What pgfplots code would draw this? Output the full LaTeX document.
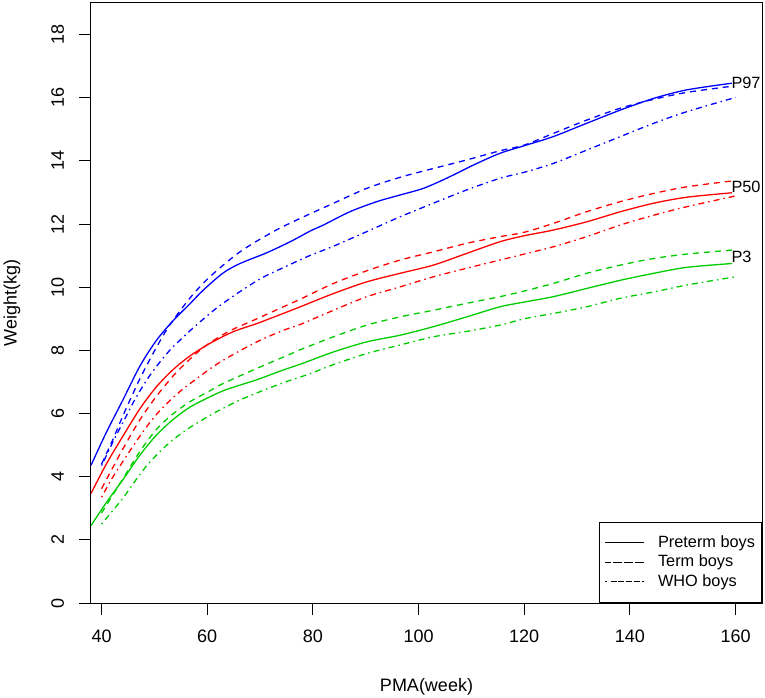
\documentclass[border=0pt]{standalone}
\usepackage{fontspec}
\setmainfont{Liberation Sans}
\usepackage{pgfplots}
\pgfplotsset{compat=1.18}
\definecolor{rblue}{RGB}{0,0,255}
\definecolor{rred}{RGB}{255,0,0}
\definecolor{rgreen}{RGB}{0,205,0}
\tikzset{
  pre/.style={solid},
  trm/.style={dash pattern=on 6bp off 5bp},
  who/.style={dash pattern=on 1.5bp off 4bp on 6bp off 4bp},
}
\begin{document}
\begin{tikzpicture}
\path[use as bounding box] (-91bp,-95bp) rectangle (674bp,603bp);
\begin{axis}[
  at={(0,0)}, anchor=south west,
  scale only axis, width=671bp, height=600bp,
  xmin=38, xmax=165, ymin=0, ymax=19,
  xtick={40,60,...,160}, ytick={0,2,...,18},
  tick pos=left,
  tick align=outside, major tick length=12bp,
  tick style={black, line width=1bp},
  axis line style={line width=1bp},
  /pgf/number format/assume math mode=true,
  ticklabel style={font=\fontsize{18bp}{20bp}\selectfont},
  xticklabel shift=11.5bp,
  yticklabel shift=11.5bp,
  yticklabel style={rotate=90, anchor=south},
  xlabel={PMA(week)}, ylabel={Weight(kg)},
  label style={font=\fontsize{18bp}{20bp}\selectfont},
  xlabel style={at={(axis description cs:0.5,-0.14)}, anchor=center},
  ylabel style={at={(axis description cs:-0.1177,0.5)}, anchor=center},
  legend style={at={(1,0)}, anchor=south east, draw=black, line width=1bp,
    inner xsep=5bp, inner ysep=11.5bp,
    font=\fontsize{16.3bp}{19bp}\selectfont,
    nodes={inner sep=1.5bp, text height=12bp, text depth=3.5bp},
    row sep=1bp,
    /tikz/every odd column/.append style={column sep=12.3bp}},
  legend cell align=left,
  legend image code/.code={\path (-7.5bp,0bp) -- (31bp,0bp); \draw[#1] (0bp,0bp) -- (31bp,0bp);},
  every axis plot/.append style={line width=1.3bp, smooth},
]
\addlegendimage{black, pre, line width=1.3bp}
\addlegendentry{Preterm boys}
\addlegendimage{black, trm, line width=1.3bp}
\addlegendentry{Term boys}
\addlegendimage{black, who, line width=1.3bp}
\addlegendentry{WHO boys}

% Preterm P97
\addplot[rblue, pre, forget plot] coordinates {
(38,4.36) (40.9,5.40) (44.1,6.45) (47.25,7.50) (50.4,8.32) (53.6,8.95) (56.7,9.47)
(59.2,9.90) (63.0,10.45) (66.2,10.75) (71.25,11.09) (75.7,11.44) (79.5,11.78)
(82,11.97) (87,12.39) (92.1,12.71) (96.5,12.92) (100.9,13.13) (105.3,13.45)
(110.4,13.87) (115.4,14.24) (120,14.48) (125.5,14.77) (131.8,15.19) (138.2,15.61)
(144.5,15.98) (150.8,16.25) (159.3,16.46)};
% Term P97
\addplot[rblue, trm, forget plot] coordinates {
(40,4.40) (42,5.12) (44.1,5.95) (47.25,7.10) (50.4,8.10) (52.9,8.80) (56.7,9.65)
(60.5,10.33) (66.2,11.12) (72.5,11.76) (77.6,12.18) (83.9,12.66) (90.2,13.13)
(96.5,13.48) (102.8,13.76) (109.1,14.03) (115.4,14.32) (120,14.50) (125.5,14.87)
(131.8,15.29) (138.2,15.67) (144.5,15.95) (150.8,16.17) (159.6,16.37)};
% WHO P97
\addplot[rblue, who, forget plot] coordinates {
(40,4.35) (42,5.05) (44.3,5.80) (46.5,6.50) (48.7,7.10) (50.8,7.58) (53,8.02)
(55.2,8.38) (57.4,8.72) (61.7,9.33) (66.1,9.85) (70.4,10.30) (74.8,10.65)
(79.1,10.98) (83.9,11.30) (90.2,11.76) (96.5,12.23) (102.8,12.66) (109.1,13.08)
(115.4,13.45) (120,13.64) (125.5,13.92) (131.8,14.34) (138.2,14.77) (144.5,15.19)
(150.8,15.56) (160,16.01)};

% Preterm P50
\addplot[rred, pre, forget plot] coordinates {
(38,3.47) (40.9,4.40) (44.1,5.30) (47.25,6.15) (50.4,6.85) (53.6,7.40) (56.7,7.82)
(60.5,8.22) (64.9,8.59) (69.4,8.85) (74.4,9.17) (77.6,9.38) (83.9,9.80) (90.2,10.17)
(96.5,10.44) (102.8,10.70) (109.1,11.07) (115.4,11.44) (120,11.63) (125.5,11.81)
(131.8,12.07) (138.2,12.39) (144.5,12.66) (150.8,12.85) (159.3,12.99)};
% Term P50
\addplot[rred, trm, forget plot] coordinates {
(40,3.62) (42,4.25) (44.1,4.90) (47.25,5.80) (50.4,6.55) (53.6,7.20) (56.7,7.72)
(59.9,8.17) (64.3,8.62) (69.4,9.00) (74.4,9.38) (77.6,9.62) (83.9,10.12) (90.2,10.52)
(96.5,10.86) (102.8,11.12) (109.1,11.39) (115.4,11.60) (120,11.74) (125.5,12.02)
(131.8,12.39) (138.2,12.71) (144.5,12.97) (150.8,13.18) (159.6,13.37)};
% WHO P50
\addplot[rred, who, forget plot] coordinates {
(40,3.35) (42,3.95) (44.3,4.55) (46.5,5.10) (48.7,5.62) (50.8,6.05) (53,6.42)
(55.2,6.75) (57.4,7.03) (61.7,7.55) (66.1,7.98) (70.4,8.35) (74.8,8.66) (77.6,8.82)
(83.9,9.27) (90.2,9.70) (96.5,10.01) (102.8,10.33) (109.1,10.60) (115.4,10.86)
(120,11.05) (125.5,11.28) (131.8,11.60) (138.2,11.97) (144.5,12.28) (150.8,12.55)
(160,12.89)};

% Preterm P3
\addplot[rgreen, pre, forget plot] coordinates {
(38,2.45) (40.9,3.18) (44.1,3.92) (47.25,4.68) (50.4,5.32) (53.6,5.82) (56.7,6.20)
(59.9,6.48) (63.0,6.72) (66.2,6.90) (69.4,7.07) (74.4,7.38) (77.6,7.56) (83.9,7.95)
(90.2,8.27) (96.5,8.48) (102.8,8.75) (109.1,9.06) (115.4,9.38) (120,9.53) (125.5,9.70)
(131.8,9.96) (138.2,10.22) (144.5,10.44) (150.8,10.63) (159.3,10.75)};
% Term P3
\addplot[rgreen, trm, forget plot] coordinates {
(40,2.85) (44.1,3.95) (47.25,4.80) (50.4,5.50) (53.6,6.00) (56.7,6.37) (60.5,6.72)
(63,6.95) (69.4,7.43) (75.7,7.88) (77.6,8.02) (83.9,8.43) (90.2,8.80) (96.5,9.06)
(102.8,9.27) (109.1,9.49) (115.4,9.70) (120,9.88) (125.5,10.12) (131.8,10.44)
(138.2,10.70) (144.5,10.91) (150.8,11.05) (159.6,11.18)};
% WHO P3
\addplot[rgreen, who, forget plot] coordinates {
(40,2.50) (42,2.90) (44.3,3.38) (46.5,3.90) (48.7,4.38) (50.8,4.75) (53,5.10)
(55.2,5.38) (57.4,5.63) (61.7,6.05) (66.1,6.42) (70.4,6.72) (74.8,7.00) (79.1,7.24)
(83.9,7.55) (90.2,7.90) (96.5,8.17) (102.8,8.43) (109.1,8.60) (115.4,8.80) (120,9.00)
(125.5,9.17) (131.8,9.38) (138.2,9.65) (144.5,9.85) (150.8,10.07) (160,10.33)};

\node[anchor=west, inner sep=0pt, font=\fontsize{16.3bp}{19bp}\selectfont] at (axis cs:159.2,16.48) {P97};
\node[anchor=west, inner sep=0pt, font=\fontsize{16.3bp}{19bp}\selectfont] at (axis cs:159.2,13.18) {P50};
\node[anchor=west, inner sep=0pt, font=\fontsize{16.3bp}{19bp}\selectfont] at (axis cs:159.2,10.96) {P3};
\end{axis}
\end{tikzpicture}
\end{document}
